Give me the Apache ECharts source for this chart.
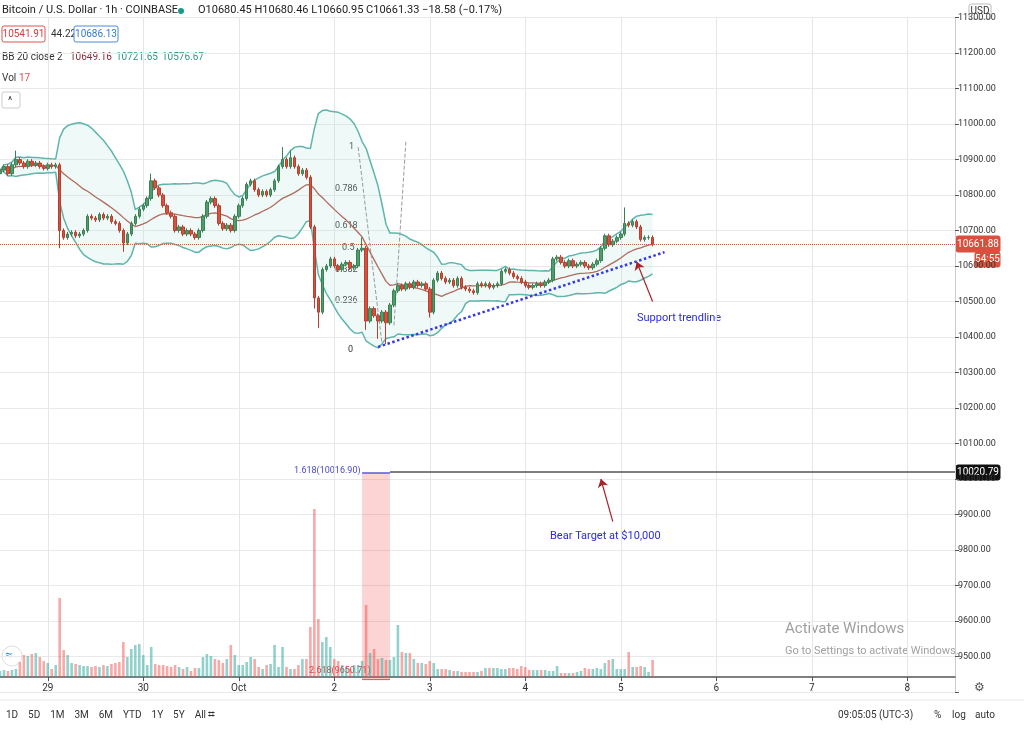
<!DOCTYPE html>
<html><head><meta charset="utf-8">
<script src="https://cdn.jsdelivr.net/npm/echarts@6/dist/echarts.min.js"></script>
<style>html,body{margin:0;padding:0;background:#fff}#c{width:1024px;height:732px}</style>
</head><body><div id="c"></div>
<script>
// ---- data ----
const dayTicks = {12:'29',36:'30',60:'Oct',84:'2',108:'3',132:'4',156:'5',180:'6',204:'7',228:'8'};
const priceTicks = [9500,9600,9700,9800,9900,10000,10100,10200,10300,10400,10500,10600,10700,10800,10900,11000,11100,11200,11300];
const firstOpen = 10860;
const closes = [
10870,10880,10860,10885,10900,10890,10880,10895,10885,10890,10880,10875,10885,10880,10885,
10700,10680,10690,10695,10685,10690,10700,10740,10735,10730,10745,10735,10740,10725,10720,
10700,10665,10690,10720,10740,10760,10770,10790,10840,10820,10800,10770,10750,10740,10700,
10710,10690,10700,10690,10680,10700,10740,10780,10790,10770,10720,10705,10715,10700,10740,
10770,10790,10830,10840,10815,10800,10810,10800,10815,10840,10880,10900,10880,10905,10880,
10860,10870,10850,10710,10510,10470,10590,10600,10620,10600,10590,10605,10610,10595,10600,
10645,10650,10445,10480,10460,10445,10470,10440,10490,10530,10545,10535,10550,10540,10555,
10545,10550,10535,10470,10560,10580,10565,10555,10560,10545,10565,10540,10535,10530,10525,
10550,10545,10550,10540,10545,10550,10585,10590,10580,10570,10565,10555,10545,10540,10545,
10550,10545,10555,10560,10620,10625,10610,10600,10615,10600,10605,10610,10600,10595,10605,
10615,10650,10685,10660,10670,10680,10690,10720,10715,10725,10710,10675,10680,10680.45,10661.33];
const wickLow = {15:10650,31:10640,79:10480,80:10425,92:10420,95:10395,97:10380,108:10455,0:10840};
const wickHigh = {38:10860,71:10935,73:10925,157:10765,91:10680,4:10925};
const volumes = [
6,7,6,7,8,15,22,21,23,24,20,16,14,8,12,
79,27,22,14,13,12,11,11,10,11,10,12,11,13,14,
15,35,20,28,32,33,22,12,30,13,12,12,11,10,12,
10,8,10,6,9,9,20,23,21,18,17,14,18,32,22,
12,12,15,20,18,10,8,12,13,32,10,30,10,8,8,
12,18,18,50,168,58,35,40,30,18,16,12,10,8,12,
12,16,72,24,28,18,19,17,17,20,52,25,24,24,18,
14,14,13,16,14,8,8,8,7,6,6,5,5,5,5,
5,6,9,9,9,9,8,8,9,9,8,11,10,7,7,
7,7,7,6,6,11,4,4,4,4,5,6,9,8,8,
9,8,14,17,18,8,8,8,25,10,10,11,10,5,17];
const nSlots = 241;

// ---- build ----
const cats = Array.from({length:nSlots},(_,i)=>String(i));
const candles = [], vols = [];
for (let i=0;i<nSlots;i++){
  if (i<closes.length){
    const o = i===0?firstOpen:closes[i-1], c = closes[i];
    const lo = wickLow[i]!==undefined?wickLow[i]:Math.min(o,c)-6;
    const hi = wickHigh[i]!==undefined?wickHigh[i]:Math.max(o,c)+6;
    candles.push([o,c,lo,hi]);
    vols.push({value:volumes[i],itemStyle:{color:c>=o?'rgba(38,166,154,0.5)':'rgba(239,83,80,0.5)'}});
  } else { candles.push('-'); vols.push('-'); }
}
const mid=[],up=[],lo=[],diff=[];
for (let i=0;i<nSlots;i++){
  if(i>=closes.length){mid.push('-');up.push('-');lo.push('-');diff.push('-');continue;}
  const w=closes.slice(Math.max(0,i-19),i+1);
  const m=w.reduce((a,b)=>a+b,0)/w.length;
  const sd=Math.sqrt(w.reduce((a,b)=>a+(b-m)*(b-m),0)/w.length);
  mid.push(m);up.push(m+2*sd);lo.push(m-2*sd);diff.push(4*sd);
}
const isDay = i => dayTicks[i]!==undefined;

const chart = echarts.init(document.getElementById('c'));
const F='Roboto';
function t(x,y,text,size,color){return {type:'text',x:x,y:y,style:{text,fontSize:size,fill:color,fontFamily:F}};}
function box(x,y,w,h,text,stroke,fill,color){return [
  {type:'rect',shape:{x:x,y:y,width:w,height:h,r:2},style:{fill:fill,stroke:stroke,lineWidth:1}},
  {type:'text',x:x+w/2,y:y+h/2,style:{text,fontSize:10,fill:color,fontFamily:F,align:'center',verticalAlign:'middle'}}];}

chart.setOption({
  animation:false,
  grid:[{left:0,right:69,top:17.5,bottom:40},{left:0,right:69,top:400,bottom:55}],
  xAxis:[
    {type:'category',data:cats,gridIndex:0,boundaryGap:false,axisLine:{show:false},axisTick:{show:false},axisLabel:{show:false},
     splitLine:{show:true,interval:(i)=>isDay(i),lineStyle:{color:'#e6e6e6'}}},
    {type:'category',data:cats,gridIndex:1,boundaryGap:false,axisLine:{show:true,lineStyle:{color:'#555',width:1.5}},
     axisTick:{show:true,interval:(i)=>isDay(i),length:4,lineStyle:{color:'#555'}},
     axisLabel:{interval:(i)=>isDay(i),formatter:(v)=>dayTicks[v]||'',fontSize:10,color:'#333',fontFamily:F,margin:6},
     splitLine:{show:false}}
  ],
  yAxis:[
    {type:'value',gridIndex:0,position:'right',min:9400,max:11300,interval:100,showMinLabel:false,
     axisLine:{show:true,lineStyle:{color:'#ccc'}},axisTick:{show:true,length:4,lineStyle:{color:'#555'}},
     axisLabel:{formatter:(v)=>priceTicks.includes(v)?v.toFixed(2):'',fontSize:9,color:'#333',fontFamily:F,margin:3},
     splitLine:{lineStyle:{color:'#e9e9e9'}}},
    {type:'value',gridIndex:1,min:0,max:277,show:false}
  ],
  series:[
    {type:'line',name:'lower',data:lo,stack:'bb',symbol:'none',lineStyle:{color:'#5fb5ab',width:1.5},z:1},
    {type:'line',name:'fill',data:diff,stack:'bb',symbol:'none',lineStyle:{width:0},areaStyle:{color:'rgba(180,225,220,0.3)'},z:1},
    {type:'line',name:'upper',data:up,symbol:'none',lineStyle:{color:'#5fb5ab',width:1.5},z:1},
    {type:'line',name:'mid',data:mid,symbol:'none',lineStyle:{color:'#b06a5e',width:1.3},z:2},
    {type:'bar',data:vols,xAxisIndex:1,yAxisIndex:1,barWidth:2.6,z:1},
    {type:'candlestick',data:candles,barWidth:3,z:5,
     itemStyle:{color:'#4e9e6c',color0:'#d9503f',borderColor:'#3d7f55',borderColor0:'#b5402f'},
     markArea:{silent:true,itemStyle:{color:'rgba(239,83,80,0.25)'},data:[[{xAxis:'91',yAxis:10016.9},{xAxis:'98',yAxis:9434}]]},
     markLine:{silent:true,symbol:['none','none'],label:{show:false},data:[
       [{coord:['0',10661.33],lineStyle:{color:'#e0533f',type:'dotted',width:1}},{coord:['240',10661.33]}],
       [{coord:['95',10372],lineStyle:{color:'#3838e8',type:'dotted',width:2.5}},{coord:['167',10639]}],
       [{coord:['91',10017],lineStyle:{color:'#5a5ad8',type:'solid',width:1.5}},{coord:['98',10017]}],
       [{coord:['98',10020.8],lineStyle:{color:'#555',type:'solid',width:1.5}},{coord:['240',10020.8]}],
       [{coord:['91',9437],lineStyle:{color:'#e06060',type:'solid',width:1.2}},{coord:['98',9437]}],
       [{coord:['90',10935],lineStyle:{color:'#999',type:'dashed',width:1}},{coord:['96',10380]}],
       [{coord:['102',10950],lineStyle:{color:'#999',type:'dashed',width:1}},{coord:['99',10430]}],
       [{coord:['164',10500],symbol:'none',lineStyle:{color:'#a8222a',type:'solid',width:1.2}},{coord:['160',10612],symbol:'arrow',symbolSize:8}],
       [{coord:['154',9880],symbol:'none',lineStyle:{color:'#a8222a',type:'solid',width:1.2}},{coord:['151',10000],symbol:'arrow',symbolSize:8}]
     ]}}
  ],
  graphic:[
    t(2,5,'Bitcoin / U.S. Dollar · 1h · COINBASE',11,'#222'),
    {type:'circle',shape:{cx:181,cy:11,r:3},style:{fill:'#1a9a8a'}},
    t(198,5,'O10680.45 H10680.46 L10660.95 C10661.33 −18.58 (−0.17%)',11,'#222'),
    ...box(2,26,43,16,'10541.91','#e05050','#fff','#d04040'),
    t(51,29,'44.22',10,'#333'),
    ...box(74,26,44,16,'10686.13','#4a8ae0','#fff','#3a7ad0'),
    t(2,52,'BB 20 close 2',10,'#333'),
    t(70,52,'10649.16',10,'#8b2a3a'),
    t(116,52,'10721.65',10,'#2a9a8a'),
    t(162,52,'10576.67',10,'#2a9a8a'),
    t(2,73,'Vol',10,'#333'),t(19,73,'17',10,'#e05050'),
    {type:'rect',shape:{x:2,y:92,width:18,height:16,r:2},style:{fill:'#fff',stroke:'#ccc'}},
    t(8,96,'^',10,'#333'),
    ...box(969,4,22,15,'USD','#bbb','#fff','#333'),
    ...box(956,236,44,16,'10661.88','#d9503f','#d9503f','#fff'),
    ...box(975,252,25,15,'54:55','#d9503f','#d9503f','#fff'),
    ...box(956,465,44,15,'10020.79','#111','#111','#fff'),
    t(349,142,'1',9,'#333'),t(335,184,'0.786',9,'#333'),t(335,221,'0.618',9,'#333'),
    t(342,243,'0.5',9,'#333'),t(335,265,'0.382',9,'#333'),t(335,296,'0.236',9,'#333'),t(348,345,'0',9,'#333'),
    t(294,466,'1.618(10016.90)',9,'#4a4ad0'),
    t(309,666,'2.618(9650.71)',9,'#d04040'),
    t(637,313,'Support trendline',11,'#2a2ae0'),
    t(550,531,'Bear Target at $10,000',11,'#2a2ae0'),
    t(785,622,'Activate Windows',15,'#a0a0a0'),
    t(785,646,'Go to Settings to activate Windows.',11,'#a0a0a0'),
    {type:'circle',shape:{cx:12,cy:656,r:10},style:{fill:'#fff',stroke:'#ddd'}},
    t(5,649,'≈',13,'#2a8ae0'),
    {type:'line',shape:{x1:0,y1:700,x2:1024,y2:700},style:{stroke:'#e6e6e6'}},
    t(6,710,'1D    5D    1M    3M    6M    YTD    1Y    5Y    All',10,'#333'),
    t(208,709,'⌗',12,'#333'),
    t(838,710,'09:05:05 (UTC-3)',10,'#333'),
    t(934,710,'%',10,'#333'),t(952,710,'log',10,'#333'),t(975,710,'auto',10,'#333'),
    t(974,682,'⚙',12,'#555')
  ]
});
</script></body></html>
